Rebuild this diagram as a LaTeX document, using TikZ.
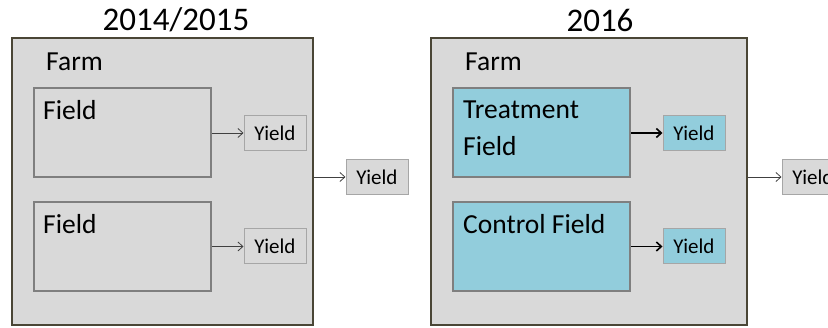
\documentclass[tikz,border=0pt]{standalone}
\usepackage{fontspec}
\setmainfont{Carlito}
\usetikzlibrary{arrows.meta}
\definecolor{farmfill}{HTML}{D9D9D9}
\definecolor{farmline}{HTML}{4A4636}
\definecolor{fieldline}{HTML}{7F7F7F}
\definecolor{yieldline}{HTML}{A6A6A6}
\definecolor{bluefill}{HTML}{92CDDC}
\begin{document}
\begin{tikzpicture}[x=1pt,y=-1pt,
  farmbox/.style={draw=farmline,fill=farmfill,line width=2pt,minimum width=301pt,minimum height=287pt,inner sep=0pt},
  fieldbox/.style={draw=fieldline,line width=2pt,minimum width=177pt,minimum height=89pt,inner sep=0pt},
  yieldbox/.style={draw=yieldline,fill=farmfill,line width=1pt,minimum width=62pt,minimum height=35pt,inner sep=0pt,font=\fontsize{21}{25}\selectfont},
  bigtext/.style={font=\fontsize{27.5}{36}\selectfont,inner sep=0pt,anchor=west,align=left},
  titletext/.style={font=\fontsize{33}{38}\selectfont,inner sep=0pt},
  thinarrow/.style={draw=black!75,line width=0.8pt,-{Straight Barb[length=5pt,width=9pt]}},
  thickarrow/.style={draw=black,line width=1.6pt,-{Straight Barb[length=5pt,width=9pt]}}]
\useasboundingbox (0,0) rectangle (828,328);
\clip (0,0) rectangle (828,328);
% left panel
\node[titletext] (t1) at (176,20) {2014/2015};
\node[farmbox] (farm1) at (162.5,181.5) {};
\node[bigtext] (farm1l) at (46,62) {Farm};
\node[fieldbox] (f1a) at (122.5,132.5) {};
\node[fieldbox] (f1b) at (122.5,246.5) {};
\node[bigtext] (f1al) at (43,110) {Field};
\node[bigtext] (f1bl) at (43,224) {Field};
\node[yieldbox] (y1a) at (275,133) {Yield};
\node[yieldbox] (y1b) at (275,246.5) {Yield};
\node[yieldbox] (y1) at (377,177) {Yield};
\draw[thinarrow] (f1a.east |- y1a.west) -- (y1a.west);
\draw[thinarrow] (f1b.east |- y1b.west) -- (y1b.west);
\draw[thinarrow] (farm1.east |- y1.west) -- (y1.west);
% right panel
\node[titletext] (t2) at (600,20) {2016};
\node[farmbox,minimum width=316pt] (farm2) at (589,181.5) {};
\node[bigtext] (farm2l) at (465,62) {Farm};
\node[fieldbox,fill=bluefill] (f2a) at (541.5,132.5) {};
\node[fieldbox,fill=bluefill] (f2b) at (541.5,246.5) {};
\node[bigtext] (f2al) at (463,110) {Treatment};
\node[bigtext] (f2al2) at (463,146) {Field};
\node[bigtext] (f2bl) at (463,224) {Control Field};
\node[yieldbox,fill=bluefill] (y2a) at (694,133) {Yield};
\node[yieldbox,fill=bluefill] (y2b) at (694,246.5) {Yield};
\node[yieldbox] (y2) at (813,177) {Yield};
\draw[thickarrow] (f2a.east |- y2a.west) -- (y2a.west);
\draw[thickarrow] (f2b.east |- y2b.west) -- (y2b.west);
\draw[thinarrow] (farm2.east |- y2.west) -- (y2.west);
\end{tikzpicture}
\end{document}
